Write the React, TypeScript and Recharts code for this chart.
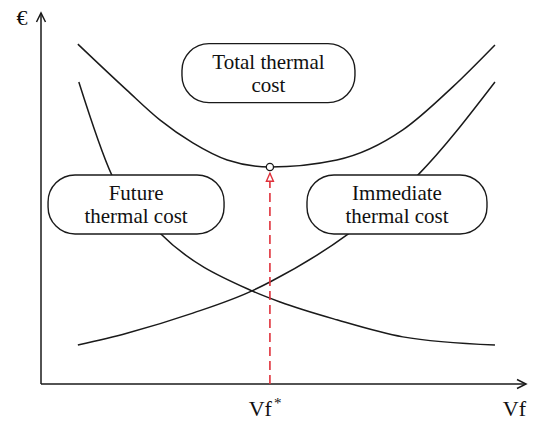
import React from 'react'
import {
    ComposedChart,
    Line,
    XAxis,
    YAxis,
    ReferenceDot,
    ReferenceLine,
} from 'recharts'

// curves, arbitrary units (0..100 on both axes)
const totalX = [7.6, 17.7, 24.5, 31.3, 38.4, 47.2, 61.0, 74.6, 84.9, 93.6]
const totalY = [91.6, 79.2, 71.2, 65.0, 60.4, 58.5, 60.4, 68.5, 80.1, 91.4]

const futureX = [7.8, 14.6, 24.5, 43.5, 49.3, 61.0, 74.6, 93.6]
const futureY = [81.4, 56.3, 40.7, 25.1, 22.1, 17.3, 12.7, 10.5]

const immediateX = [7.6, 17.7, 31.3, 43.5, 47.2, 63.3, 77.7, 93.6]
const immediateY = [10.5, 13.7, 19.1, 25.1, 27.5, 40.4, 56.3, 81.4]

const optimumX = 47.2
const optimumY = 58.5
const arrowTipY = 56.8

const boxNames = ['total', 'future', 'immediate']
const boxLines = [
    ['Total thermal', 'cost'],
    ['Future', 'thermal cost'],
    ['Immediate', 'thermal cost'],
]
const boxX = [46.9, 19.6, 73.4]
const boxY = [83.8, 48.4, 48.4]

const zip = (xs: number[], ys: number[]) => xs.map((x, i) => ({ x, y: ys[i] }))

const FONT = '"Liberation Serif", "Times New Roman", serif'
const INK = '#1a1a1a'
const RED = '#e0313b'
const boxWidths: Record<string, number> = { total: 173, future: 176, immediate: 180 }

const Pill = (lines: string[], w: number) => (props: any) => {
    const { cx, cy } = props
    const h = 59
    return (
        <g>
            <rect
                x={cx - w / 2}
                y={cy - h / 2}
                width={w}
                height={h}
                rx={27}
                ry={27}
                fill="#fff"
                stroke={INK}
                strokeWidth={1.4}
            />
            <text
                x={cx}
                y={cy - 4.5}
                textAnchor="middle"
                fontFamily={FONT}
                fontSize={21}
                fill="#111"
            >
                {lines.map((t, i) => (
                    <tspan key={t} x={cx} dy={i === 0 ? 0 : 23.4}>
                        {t}
                    </tspan>
                ))}
            </text>
        </g>
    )
}

export default function App() {
    return (
        <div style={{ position: 'absolute', left: 0, top: 0, background: '#fff' }}>
            <ComposedChart
                width={533}
                height={422}
                margin={{ top: 13, right: 7, bottom: 38, left: 41 }}
            >
                <XAxis type="number" dataKey="x" domain={[0, 100]} hide allowDataOverflow />
                <YAxis type="number" dataKey="y" domain={[0, 100]} hide allowDataOverflow />

                {/* axes */}
                <ReferenceLine
                    segment={[{ x: 0, y: 0 }, { x: 100, y: 0 }]}
                    stroke={INK}
                    strokeWidth={1.5}
                    ifOverflow="visible"
                />
                <ReferenceLine
                    segment={[{ x: 0, y: 0 }, { x: 0, y: 100 }]}
                    stroke={INK}
                    strokeWidth={1.5}
                    ifOverflow="visible"
                />

                <Line
                    data={zip(totalX, totalY)}
                    dataKey="y"
                    type="monotone"
                    stroke={INK}
                    strokeWidth={1.5}
                    dot={false}
                    isAnimationActive={false}
                />
                <Line
                    data={zip(futureX, futureY)}
                    dataKey="y"
                    type="monotone"
                    stroke={INK}
                    strokeWidth={1.5}
                    dot={false}
                    isAnimationActive={false}
                />
                <Line
                    data={zip(immediateX, immediateY)}
                    dataKey="y"
                    type="monotone"
                    stroke={INK}
                    strokeWidth={1.5}
                    dot={false}
                    isAnimationActive={false}
                />

                {/* optimum marker */}
                <ReferenceLine
                    segment={[{ x: optimumX, y: 0 }, { x: optimumX, y: arrowTipY }]}
                    stroke={RED}
                    strokeWidth={1.6}
                    strokeDasharray="9 5"
                    ifOverflow="visible"
                />
                <ReferenceDot
                    x={optimumX}
                    y={arrowTipY}
                    r={0}
                    ifOverflow="visible"
                    shape={(p: any) => (
                        <path
                            d={`M${p.cx},${p.cy} L${p.cx - 3.5},${p.cy + 8} L${p.cx + 3.5},${p.cy + 8} Z`}
                            fill="#fff"
                            stroke={RED}
                            strokeWidth={1.4}
                        />
                    )}
                />
                <ReferenceDot
                    x={optimumX}
                    y={optimumY}
                    r={3.6}
                    fill="#fff"
                    stroke={INK}
                    strokeWidth={1.3}
                    ifOverflow="visible"
                />

                {/* label boxes */}
                {boxNames.map((name, i) => (
                    <ReferenceDot
                        key={name}
                        x={boxX[i]}
                        y={boxY[i]}
                        r={0}
                        ifOverflow="visible"
                        shape={Pill(boxLines[i], boxWidths[name])}
                    />
                ))}

                {/* axis arrows + axis titles */}
                <ReferenceDot
                    x={100}
                    y={0}
                    r={0}
                    ifOverflow="visible"
                    shape={(p: any) => (
                        <g>
                            <path
                                d={`M${p.cx - 9},${p.cy - 4.5} L${p.cx},${p.cy} L${p.cx - 9},${p.cy + 4.5}`}
                                fill="none"
                                stroke={INK}
                                strokeWidth={1.5}
                            />
                            <text x={p.cx} y={p.cy + 32} textAnchor="end" fontFamily={FONT} fontSize={22} fill="#111">
                                Vf
                            </text>
                        </g>
                    )}
                />
                <ReferenceDot
                    x={0}
                    y={100}
                    r={0}
                    ifOverflow="visible"
                    shape={(p: any) => (
                        <g>
                            <path
                                d={`M${p.cx - 4.5},${p.cy + 9} L${p.cx},${p.cy} L${p.cx + 4.5},${p.cy + 9}`}
                                fill="none"
                                stroke={INK}
                                strokeWidth={1.5}
                            />
                            <text x={p.cx - 19} y={p.cy + 12} textAnchor="middle" fontFamily={FONT} fontSize={22} fill="#111">
                                €
                            </text>
                        </g>
                    )}
                />
                <ReferenceDot
                    x={optimumX}
                    y={0}
                    r={0}
                    ifOverflow="visible"
                    shape={(p: any) => (
                        <g fontFamily={FONT} fill="#111">
                            <text x={p.cx + 2} y={p.cy + 32} textAnchor="end" fontSize={22}>
                                Vf
                            </text>
                            <text x={p.cx + 4} y={p.cy + 24} fontSize={15}>
                                *
                            </text>
                        </g>
                    )}
                />
            </ComposedChart>
        </div>
    )
}
